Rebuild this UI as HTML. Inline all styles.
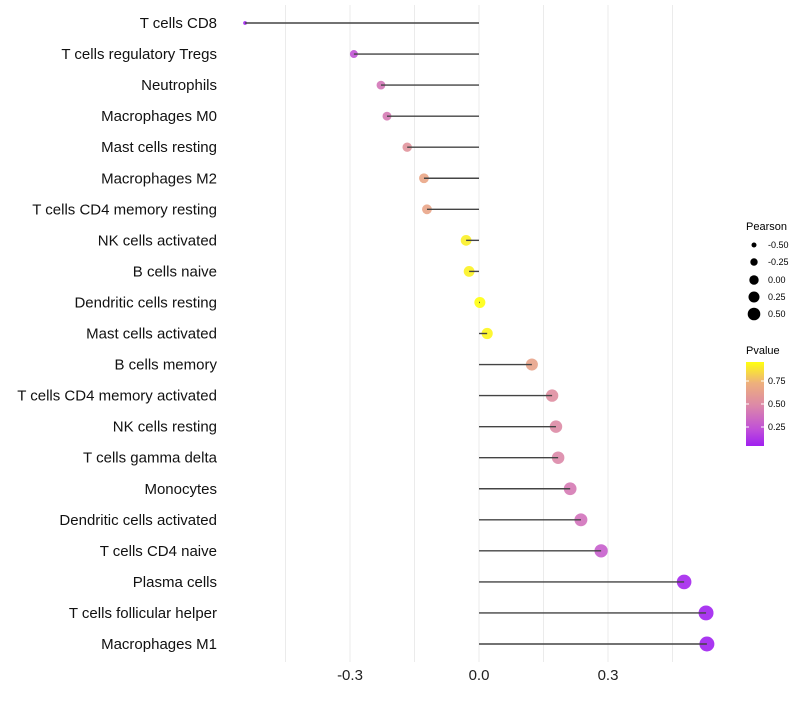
<!DOCTYPE html>
<html><head><meta charset="utf-8"><style>
body{margin:0;background:#fff;font-family:"Liberation Sans",sans-serif}
</style></head><body>
<svg id="chart" width="800" height="700" xmlns="http://www.w3.org/2000/svg">
<defs>
<linearGradient id="pg" x1="0" y1="1" x2="0" y2="0">
<stop offset="0" stop-color="#a020f0"/>
<stop offset="0.2" stop-color="#c050d8"/>
<stop offset="0.48" stop-color="#dc88a8"/>
<stop offset="0.75" stop-color="#eeb07c"/>
<stop offset="1" stop-color="#ffff10"/>
</linearGradient>
</defs>
<g id="grid"></g><g id="marks"></g><g id="labels"></g>
<g font-size="10" fill="#000">
<text x="746" y="230" font-size="11">Pearson</text>
<circle cx="754" cy="245" r="2.5"/><text x="768" y="248" font-size="9">-0.50</text>
<circle cx="754" cy="262" r="3.7"/><text x="768" y="265" font-size="9">-0.25</text>
<circle cx="754" cy="280" r="4.7"/><text x="768" y="283" font-size="9">0.00</text>
<circle cx="754" cy="297" r="5.5"/><text x="768" y="300" font-size="9">0.25</text>
<circle cx="754" cy="314" r="6.3"/><text x="768" y="317" font-size="9">0.50</text>
<text x="746" y="354" font-size="11">Pvalue</text>
<rect x="746" y="362" width="18" height="84" fill="url(#pg)"/>
<line x1="746" y1="381" x2="749" y2="381" stroke="#fff"/><line x1="761" y1="381" x2="764" y2="381" stroke="#fff"/>
<line x1="746" y1="404" x2="749" y2="404" stroke="#fff"/><line x1="761" y1="404" x2="764" y2="404" stroke="#fff"/>
<line x1="746" y1="427" x2="749" y2="427" stroke="#fff"/><line x1="761" y1="427" x2="764" y2="427" stroke="#fff"/>
<text x="768" y="384" font-size="9">0.75</text><text x="768" y="407" font-size="9">0.50</text><text x="768" y="430" font-size="9">0.25</text>
</g>
</svg>
<script>
const categories=["T cells CD8","T cells regulatory  Tregs","Neutrophils","Macrophages M0","Mast cells resting","Macrophages M2","T cells CD4 memory resting","NK cells activated","B cells naive","Dendritic cells resting","Mast cells activated","B cells memory","T cells CD4 memory activated","NK cells resting","T cells gamma delta","Monocytes","Dendritic cells activated","T cells CD4 naive","Plasma cells","T cells follicular helper","Macrophages M1"];
const pearson=[-0.544,-0.291,-0.228,-0.214,-0.167,-0.128,-0.121,-0.030,-0.023,0.002,0.019,0.123,0.170,0.179,0.184,0.212,0.237,0.284,0.477,0.528,0.530];
const pvalue=[0.054,0.25,0.41,0.43,0.56,0.68,0.67,0.92,0.93,0.967,0.94,0.66,0.53,0.51,0.49,0.43,0.39,0.3,0.08,0.06,0.056];
const xTicks=[-0.3,0.0,0.3];
const xTickLabels=["-0.3","0.0","0.3"];
const gridVals=[-0.45,-0.3,-0.15,0,0.15,0.3,0.45];
const NS="http://www.w3.org/2000/svg";
const xs=v=>479+v*430;
const ys=i=>23+i*31.05;
const rs=v=>Math.sqrt(Math.max(3.5,30.2+48.8*v));
const stops=[[0,[160,32,240]],[0.2,[192,80,216]],[0.48,[220,136,168]],[0.75,[238,176,124]],[1,[255,255,16]]];
function col(p){let t=(p-0.054)/(0.967-0.054);t=Math.max(0,Math.min(1,t));
for(let k=1;k<stops.length;k++){if(t<=stops[k][0]){const a=stops[k-1],b=stops[k],f=(t-a[0])/(b[0]-a[0]);
return "rgb("+a[1].map((c,j)=>Math.round(c+(b[1][j]-c)*f)).join(",")+")";}}return "rgb(255,255,16)";}
function mk(tag,attrs,parent){const e=document.createElementNS(NS,tag);for(const k in attrs)e.setAttribute(k,attrs[k]);parent.appendChild(e);return e;}
const grid=document.getElementById('grid'),marks=document.getElementById('marks'),labels=document.getElementById('labels');
gridVals.forEach(v=>{const l=mk('line',{x1:xs(v),x2:xs(v),y1:5,y2:662,stroke:'#ebebeb','stroke-width':1},grid);

});
xTicks.forEach((v,i)=>{const t=mk('text',{x:xs(v),y:680,'text-anchor':'middle','font-size':15,fill:'#222'},labels);t.textContent=xTickLabels[i];

});
categories.forEach((c,i)=>{const y=ys(i);
const t=mk('text',{x:217,y:y+5,'text-anchor':'end','font-size':15,fill:'#111'},labels);t.textContent=c;


const p=mk('circle',{cx:xs(pearson[i]),cy:y,r:rs(pearson[i]),fill:col(pvalue[i]),'fill-opacity':0.9},marks);


const s=mk('line',{x1:xs(0),x2:xs(pearson[i]),y1:y,y2:y,stroke:'#444','stroke-width':1.4},marks);

});
</script>
</body></html>
